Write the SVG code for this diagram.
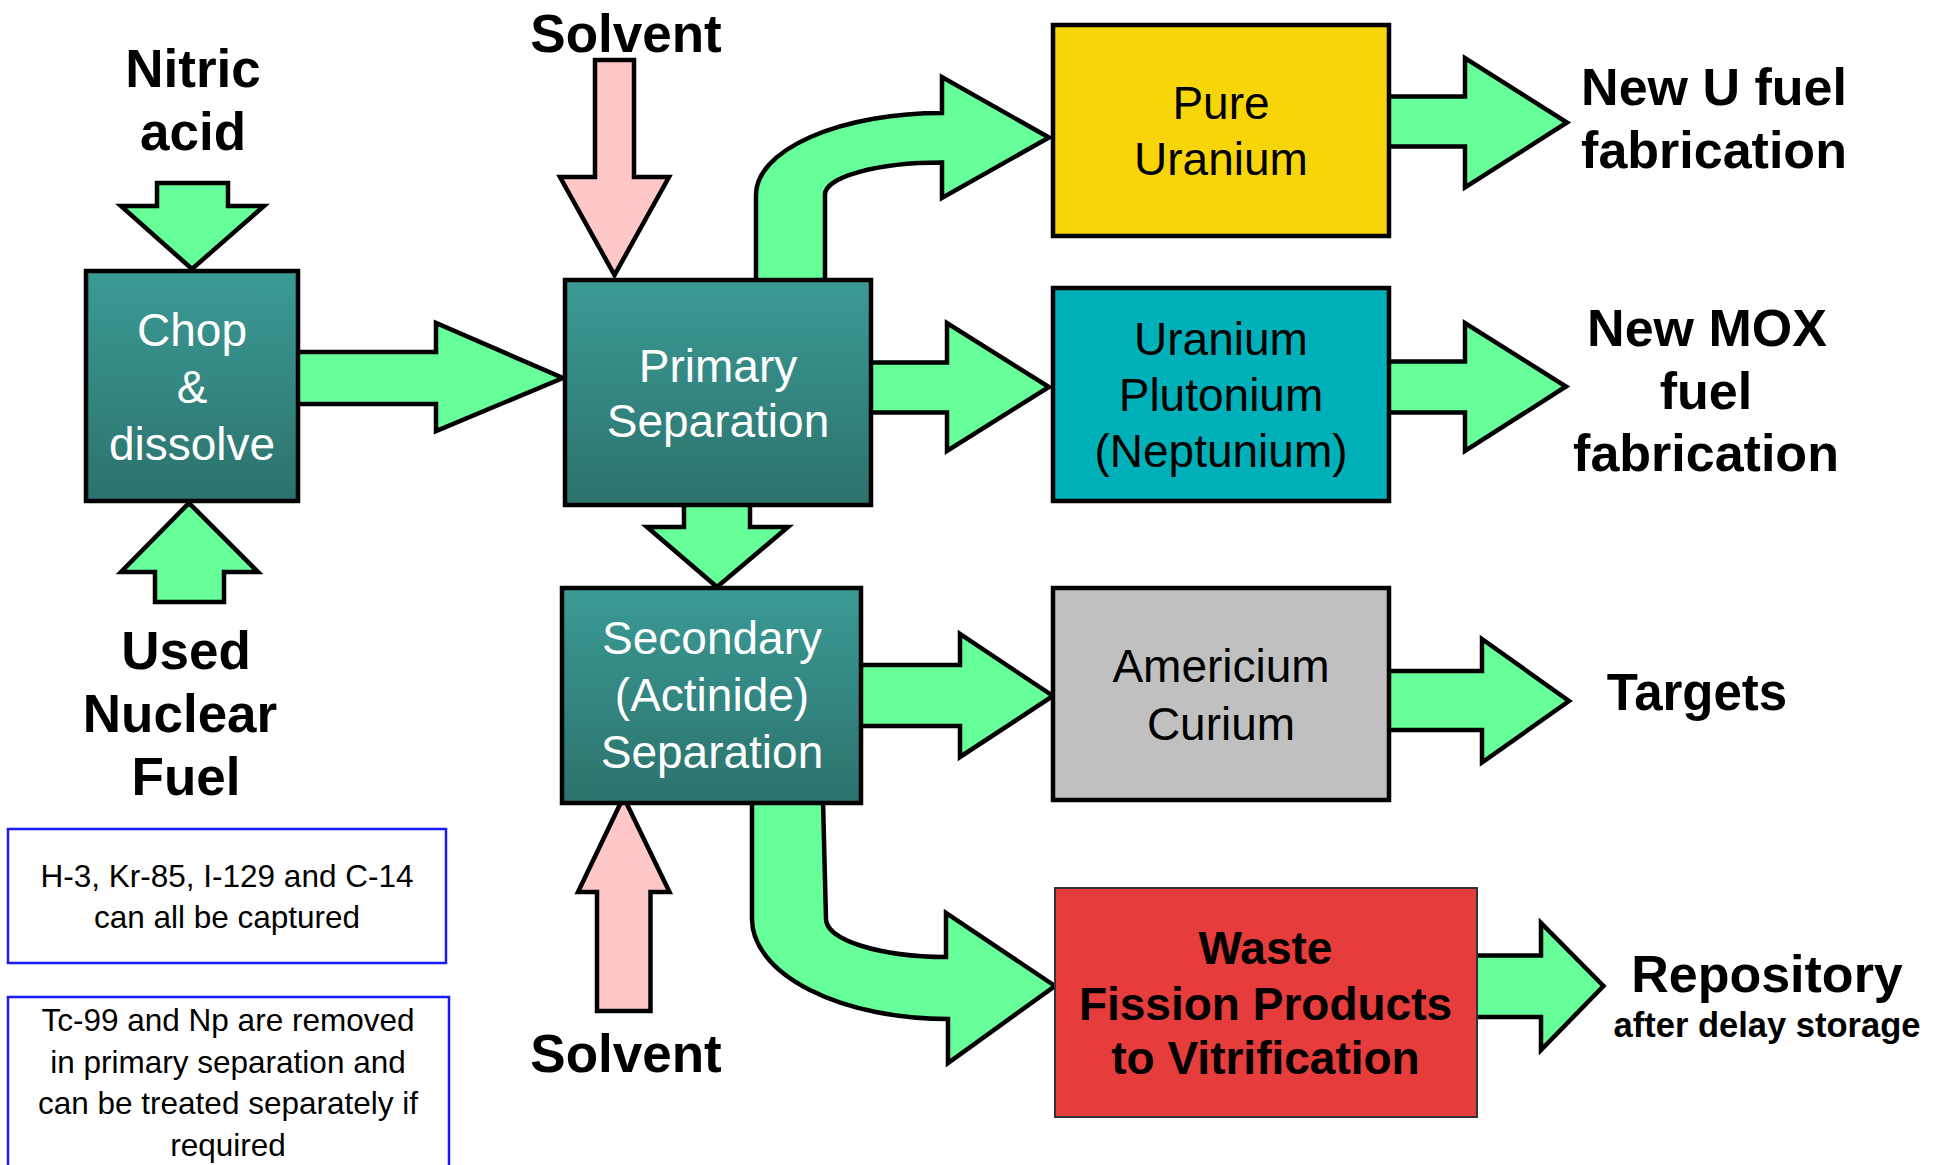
<svg xmlns="http://www.w3.org/2000/svg" width="1940" height="1165" viewBox="0 0 1940 1165">
<style>
.arr{fill:#66FF99;stroke:#000;stroke-width:4.5;stroke-linejoin:miter}
.pink{fill:#FFC8C8;stroke:#000;stroke-width:4.5;stroke-linejoin:miter}
.box{stroke:#000;stroke-width:4.5}
.teal{fill:url(#tealGrad)}
.lbl{font-family:"Liberation Sans",Arial,sans-serif;font-weight:bold;font-size:53px;fill:#000;text-anchor:middle}
.lbl52{font-size:52px}
.lbl51{font-size:51px}
.small{font-size:34.5px}
.bt{font-family:"Liberation Sans",Arial,sans-serif;font-size:46px;text-anchor:middle}
.white{fill:#fff}
.dark{fill:#000}
.bold{font-weight:bold}
.note{font-family:"Liberation Sans",Arial,sans-serif;font-size:31.5px;fill:#000;text-anchor:middle}
.nbox{fill:#fff;stroke:#1a1aff;stroke-width:2.5}
</style>
<defs>
<linearGradient id="tealGrad" x1="0" y1="0" x2="0" y2="1">
<stop offset="0" stop-color="#3B9A95"/>
<stop offset="1" stop-color="#2C726D"/>
</linearGradient>
</defs>
<rect width="1940" height="1165" fill="#fff"/>

<g id="connectors">
<polygon class="arr" points="157,183 228,183 228,206 264,206 192,269 121,206 157,206"/>
<polygon class="arr" points="189,503 258,572 224,572 224,602 155,602 155,572 121,572"/>
<polygon class="arr" points="296,352 436,352 436,323 563,378 436,431 436,404 296,404"/>
<polygon class="pink" points="595,60 634,60 634,177 669,177 614.5,275 560,177 595,177"/>
<path class="arr" d="M756,282 L756,195 A186,82 0 0 1 942,113 L942,77 L1049,137.5 L942,198 L942,162.5 A117,32 0 0 0 825,195 L825,282 Z"/>
<polygon class="arr" points="869,362.5 947,362.5 947,323 1049,387 947,451 947,412.5 869,412.5"/>
<polygon class="arr" points="684,503 750,503 750,527 788,527 717,587 647,527 684,527"/>
<polygon class="arr" points="859,665 960,665 960,634 1053,696 960,757 960,726 859,726"/>
<polygon class="pink" points="623.5,797 669.5,892 650.5,892 650.5,1011 597,1011 597,892 578,892"/>
<path class="arr" d="M752,801 L752,919 A196,100 0 0 0 948,1019 L948,1063 L1055,986 L946,913 L946,957 A121,38 0 0 1 826,919 L823,801 Z"/>
<polygon class="arr" points="1387,96.5 1465,96.5 1465,58 1567,122.5 1465,187.5 1465,146.5 1387,146.5"/>
<polygon class="arr" points="1387,361.5 1465,361.5 1465,323 1566,386.5 1465,451 1465,412.5 1387,412.5"/>
<polygon class="arr" points="1387,671 1482,671 1482,639 1569,701 1482,762.5 1482,730 1387,730"/>
<polygon class="arr" points="1475,955.5 1541,955.5 1541,923 1603.5,986 1541,1050 1541,1017 1475,1017"/>
</g>

<g id="label-nitric">
<text class="lbl" x="193" y="87">Nitric</text>
<text class="lbl" x="193" y="150">acid</text>
</g>
<g id="label-solvent-top"><text class="lbl" x="626" y="52">Solvent</text></g>
<g id="label-solvent-bottom"><text class="lbl" x="626" y="1072">Solvent</text></g>
<g id="label-used-fuel">
<text class="lbl" x="186" y="669">Used</text>
<text class="lbl" x="180" y="732">Nuclear</text>
<text class="lbl" x="186" y="795">Fuel</text>
</g>

<g id="node-chop">
<rect class="box teal" x="86" y="271" width="212" height="230"/>
<text class="bt white" x="192" y="346">Chop</text>
<text class="bt white" x="192" y="403">&amp;</text>
<text class="bt white" x="192" y="460">dissolve</text>
</g>
<g id="node-primary">
<rect class="box teal" x="565" y="280" width="306" height="225"/>
<text class="bt white" x="718" y="382">Primary</text>
<text class="bt white" x="718" y="437">Separation</text>
</g>
<g id="node-secondary">
<rect class="box teal" x="562" y="588" width="299" height="215"/>
<text class="bt white" x="712" y="654">Secondary</text>
<text class="bt white" x="712" y="711">(Actinide)</text>
<text class="bt white" x="712" y="768">Separation</text>
</g>
<g id="node-pure-uranium">
<rect class="box" fill="#F7D508" x="1053" y="25" width="336" height="211"/>
<text class="bt dark" x="1221" y="119">Pure</text>
<text class="bt dark" x="1221" y="175">Uranium</text>
</g>
<g id="node-upu">
<rect class="box" fill="#00B0B8" x="1053" y="288" width="336" height="213"/>
<text class="bt dark" x="1221" y="355">Uranium</text>
<text class="bt dark" x="1221" y="411">Plutonium</text>
<text class="bt dark" x="1221" y="467">(Neptunium)</text>
</g>
<g id="node-amcm">
<rect class="box" fill="#C0C0C0" x="1053" y="588" width="336" height="212"/>
<text class="bt dark" x="1221" y="682">Americium</text>
<text class="bt dark" x="1221" y="740">Curium</text>
</g>
<g id="node-waste">
<rect fill="#E63C3C" stroke="#333" stroke-width="2" x="1055" y="888" width="422" height="229"/>
<text class="bt dark bold" x="1265.5" y="964">Waste</text>
<text class="bt dark bold" x="1265.5" y="1020">Fission Products</text>
<text class="bt dark bold" x="1265.5" y="1074">to Vitrification</text>
</g>

<g id="label-new-u">
<text class="lbl lbl52" x="1714" y="105">New U fuel</text>
<text class="lbl lbl52" x="1714" y="168">fabrication</text>
</g>
<g id="label-new-mox">
<text class="lbl lbl52" x="1707" y="346">New MOX</text>
<text class="lbl lbl52" x="1706" y="409">fuel</text>
<text class="lbl lbl52" x="1706" y="471">fabrication</text>
</g>
<g id="label-targets"><text class="lbl lbl51" x="1697" y="710">Targets</text></g>
<g id="label-repository">
<text class="lbl lbl52" x="1767" y="992">Repository</text>
<text class="lbl small" x="1767" y="1037">after delay storage</text>
</g>

<g id="note-capture">
<rect class="nbox" x="8" y="829" width="438" height="134"/>
<text class="note" x="227" y="887">H-3, Kr-85, I-129 and C-14</text>
<text class="note" x="227" y="928">can all be captured</text>
</g>
<g id="note-tc99">
<rect class="nbox" x="8" y="997" width="441" height="180"/>
<text class="note" x="228" y="1031">Tc-99 and Np are removed</text>
<text class="note" x="228" y="1073">in primary separation and</text>
<text class="note" x="228" y="1114">can be treated separately if</text>
<text class="note" x="228" y="1156">required</text>
</g>
</svg>
